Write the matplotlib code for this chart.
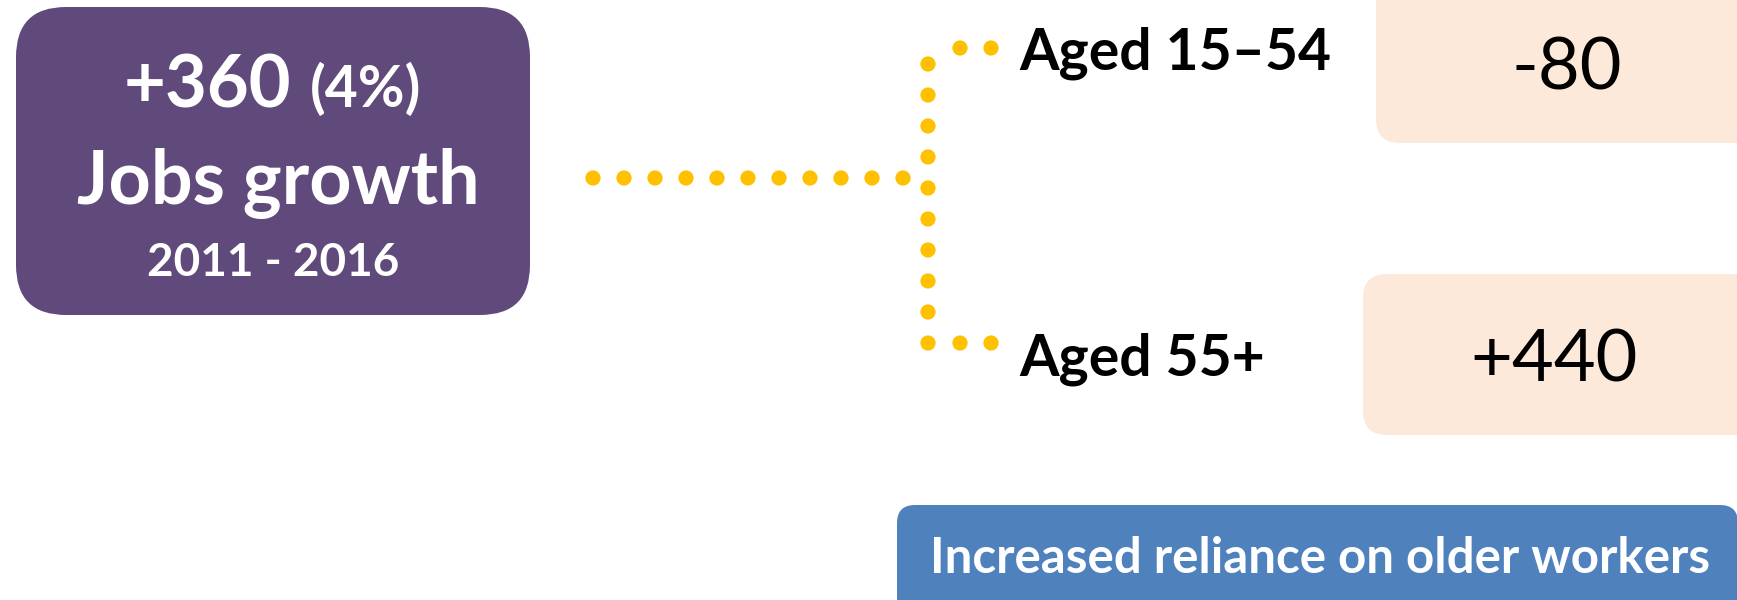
import matplotlib.pyplot as plt
import numpy as np
from matplotlib.patches import FancyBboxPatch

# values shown in the graphic
total_change = 360
total_pct = 4
period = "2011 - 2016"
age_groups = ["Aged 15\u201354", "Aged 55+"]
group_changes = [-80, 440]
summary = "Increased reliance on older workers"

PURPLE = "#604A7B"
PEACH = "#FDE9D9"
BLUE = "#4F81BD"
GOLD = "#FFC000"
FONT = "Lato"

W, H = 1737, 600

fig = plt.figure(figsize=(W / 100, H / 100), dpi=100)
ax = fig.add_axes([0, 0, 1, 1])
ax.set_xlim(0, W)
ax.set_ylim(H, 0)
ax.axis("off")


def rbox(x0, y0, x1, y1, color, r):
    ax.add_patch(FancyBboxPatch(
        (x0, y0), x1 - x0, y1 - y0,
        boxstyle="round,pad=0,rounding_size=%d" % r,
        facecolor=color, edgecolor="none", zorder=1
    ))

##################################################
# left summary box

rbox(16, 7, 530, 315, PURPLE, 50)

ax.text(291, 107, "%+d" % total_change, color="white", fontsize=52,
        fontweight="bold", family=FONT, ha="right", va="baseline", zorder=3)
ax.text(310, 107, "(%d%%)" % total_pct, color="white", fontsize=41,
        fontweight="bold", family=FONT, ha="left", va="baseline", zorder=3)
ax.text(278, 204, "Jobs growth", color="white", fontsize=53,
        fontweight="bold", family=FONT, ha="center", va="baseline", zorder=3)
ax.text(273, 276, period, color="white", fontsize=33,
        fontweight="bold", family=FONT, ha="center", va="baseline", zorder=3)

##################################################
# dotted connector

step = 31
row_x = 593 + step * np.arange(11)
col_y = 64 + step * np.arange(10)
dots_x = list(row_x) + [928] * len(col_y) + [960, 991, 960, 991]
dots_y = [178] * len(row_x) + list(col_y) + [48, 48, 343, 343]
ax.scatter(dots_x, dots_y, s=120, color=GOLD, edgecolors="none", zorder=2)

##################################################
# age group labels and values

label_y = [69, 376]
box_y = [(-40, 143), (274, 435)]
box_x0 = [1376, 1363]
value_x = [1567, 1554]
value_y = [90, 382]

for i, name in enumerate(age_groups):
    ax.text(1019, label_y[i], name, color="black", fontsize=41,
            fontweight="bold", family=FONT, ha="left", va="baseline")
    rbox(box_x0[i], box_y[i][0], W + 40, box_y[i][1], PEACH, 24)
    ax.text(value_x[i], value_y[i], "%+d" % group_changes[i], color="black",
            fontsize=52, family=FONT, ha="center", va="baseline", zorder=3)

##################################################
# bottom banner

rbox(897, 505, 1738, 640, BLUE, 18)
ax.text(1320, 573, summary, color="white", fontsize=35.5,
        fontweight="bold", family=FONT, ha="center", va="baseline", zorder=3)

fig.savefig("out.png", dpi=100)
plt.close(fig)
